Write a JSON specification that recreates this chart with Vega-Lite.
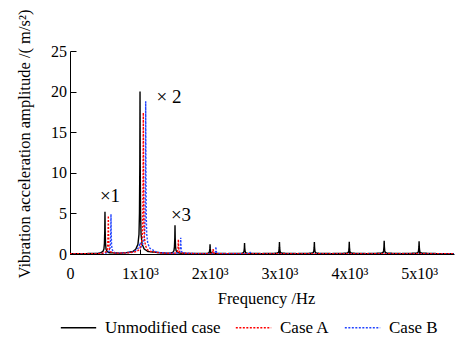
{
  "$schema": "https://vega.github.io/schema/vega-lite/v6.json",
  "autosize": "none",
  "width": 384,
  "height": 203,
  "padding": {"left": 70, "top": 51, "right": 1, "bottom": 87},
  "background": "white",
  "config": {
    "view": {"stroke": null},
    "font": "Liberation Serif",
    "axis": {"labelFont": "Liberation Serif", "titleFont": "Liberation Serif", "labelFontSize": 16, "titleFontSize": 16.5, "titleFontWeight": "normal", "labelColor": "black", "titleColor": "black", "domainColor": "black", "tickColor": "black", "grid": false},
    "legend": {"labelFont": "Liberation Serif", "labelFontSize": 17, "labelColor": "black"},
    "text": {"font": "Liberation Serif"}
  },
  "layer": [
    {
      "data": {"values": [
        {"s":"Unmodified case","f":0,"a":0.05},{"s":"Unmodified case","f":200,"a":0.05},{"s":"Unmodified case","f":400,"a":0.06},
        {"s":"Unmodified case","f":441,"a":0.16},{"s":"Unmodified case","f":471,"a":0.31},{"s":"Unmodified case","f":486,"a":0.62},{"s":"Unmodified case","f":493,"a":1.3},{"s":"Unmodified case","f":498,"a":2.86},{"s":"Unmodified case","f":501,"a":5.2},{"s":"Unmodified case","f":504,"a":2.86},{"s":"Unmodified case","f":509,"a":1.3},{"s":"Unmodified case","f":516,"a":0.62},{"s":"Unmodified case","f":531,"a":0.31},{"s":"Unmodified case","f":561,"a":0.16},
        {"s":"Unmodified case","f":700,"a":0.1},{"s":"Unmodified case","f":800,"a":0.15},{"s":"Unmodified case","f":900,"a":0.3},
        {"s":"Unmodified case","f":943,"a":0.6},{"s":"Unmodified case","f":973,"a":1.2},{"s":"Unmodified case","f":988,"a":2.4},{"s":"Unmodified case","f":995,"a":5},{"s":"Unmodified case","f":1000,"a":11},{"s":"Unmodified case","f":1003,"a":20},{"s":"Unmodified case","f":1006,"a":11},{"s":"Unmodified case","f":1011,"a":5},{"s":"Unmodified case","f":1018,"a":2.4},{"s":"Unmodified case","f":1033,"a":1.2},{"s":"Unmodified case","f":1063,"a":0.6},
        {"s":"Unmodified case","f":1120,"a":0.3},{"s":"Unmodified case","f":1300,"a":0.15},{"s":"Unmodified case","f":1400,"a":0.08},
        {"s":"Unmodified case","f":1444,"a":0.11},{"s":"Unmodified case","f":1474,"a":0.21},{"s":"Unmodified case","f":1489,"a":0.43},{"s":"Unmodified case","f":1496,"a":0.89},{"s":"Unmodified case","f":1501,"a":1.95},{"s":"Unmodified case","f":1504,"a":3.55},{"s":"Unmodified case","f":1507,"a":1.95},{"s":"Unmodified case","f":1512,"a":0.89},{"s":"Unmodified case","f":1519,"a":0.43},{"s":"Unmodified case","f":1534,"a":0.21},{"s":"Unmodified case","f":1564,"a":0.11},
        {"s":"Unmodified case","f":1700,"a":0.06},
        {"s":"Unmodified case","f":1966,"a":0.08},{"s":"Unmodified case","f":1991,"a":0.15},{"s":"Unmodified case","f":1998,"a":0.3},{"s":"Unmodified case","f":2003,"a":0.66},{"s":"Unmodified case","f":2006,"a":1.2},{"s":"Unmodified case","f":2009,"a":0.66},{"s":"Unmodified case","f":2014,"a":0.3},{"s":"Unmodified case","f":2021,"a":0.15},{"s":"Unmodified case","f":2046,"a":0.08},
        {"s":"Unmodified case","f":2250,"a":0.05},
        {"s":"Unmodified case","f":2460,"a":0.08},{"s":"Unmodified case","f":2485,"a":0.16},{"s":"Unmodified case","f":2492,"a":0.34},{"s":"Unmodified case","f":2497,"a":0.74},{"s":"Unmodified case","f":2500,"a":1.35},{"s":"Unmodified case","f":2503,"a":0.74},{"s":"Unmodified case","f":2508,"a":0.34},{"s":"Unmodified case","f":2515,"a":0.16},{"s":"Unmodified case","f":2540,"a":0.08},
        {"s":"Unmodified case","f":2750,"a":0.05},
        {"s":"Unmodified case","f":2960,"a":0.09},{"s":"Unmodified case","f":2985,"a":0.18},{"s":"Unmodified case","f":2992,"a":0.37},{"s":"Unmodified case","f":2997,"a":0.81},{"s":"Unmodified case","f":3000,"a":1.48},{"s":"Unmodified case","f":3003,"a":0.81},{"s":"Unmodified case","f":3008,"a":0.37},{"s":"Unmodified case","f":3015,"a":0.18},{"s":"Unmodified case","f":3040,"a":0.09},
        {"s":"Unmodified case","f":3250,"a":0.05},
        {"s":"Unmodified case","f":3460,"a":0.09},{"s":"Unmodified case","f":3485,"a":0.18},{"s":"Unmodified case","f":3492,"a":0.37},{"s":"Unmodified case","f":3497,"a":0.81},{"s":"Unmodified case","f":3500,"a":1.48},{"s":"Unmodified case","f":3503,"a":0.81},{"s":"Unmodified case","f":3508,"a":0.37},{"s":"Unmodified case","f":3515,"a":0.18},{"s":"Unmodified case","f":3540,"a":0.09},
        {"s":"Unmodified case","f":3750,"a":0.05},
        {"s":"Unmodified case","f":3960,"a":0.09},{"s":"Unmodified case","f":3985,"a":0.18},{"s":"Unmodified case","f":3992,"a":0.38},{"s":"Unmodified case","f":3997,"a":0.82},{"s":"Unmodified case","f":4000,"a":1.5},{"s":"Unmodified case","f":4003,"a":0.82},{"s":"Unmodified case","f":4008,"a":0.38},{"s":"Unmodified case","f":4015,"a":0.18},{"s":"Unmodified case","f":4040,"a":0.09},
        {"s":"Unmodified case","f":4250,"a":0.05},
        {"s":"Unmodified case","f":4460,"a":0.1},{"s":"Unmodified case","f":4485,"a":0.2},{"s":"Unmodified case","f":4492,"a":0.41},{"s":"Unmodified case","f":4497,"a":0.9},{"s":"Unmodified case","f":4500,"a":1.64},{"s":"Unmodified case","f":4503,"a":0.9},{"s":"Unmodified case","f":4508,"a":0.41},{"s":"Unmodified case","f":4515,"a":0.2},{"s":"Unmodified case","f":4540,"a":0.1},
        {"s":"Unmodified case","f":4750,"a":0.05},
        {"s":"Unmodified case","f":4960,"a":0.1},{"s":"Unmodified case","f":4985,"a":0.19},{"s":"Unmodified case","f":4992,"a":0.4},{"s":"Unmodified case","f":4997,"a":0.87},{"s":"Unmodified case","f":5000,"a":1.58},{"s":"Unmodified case","f":5003,"a":0.87},{"s":"Unmodified case","f":5008,"a":0.4},{"s":"Unmodified case","f":5015,"a":0.19},{"s":"Unmodified case","f":5040,"a":0.1},
        {"s":"Unmodified case","f":5250,"a":0.05},{"s":"Unmodified case","f":5500,"a":0.05},

        {"s":"Case B","f":0,"a":0.04},{"s":"Case B","f":300,"a":0.04},{"s":"Case B","f":480,"a":0.08},
        {"s":"Case B","f":527,"a":0.15},{"s":"Case B","f":557,"a":0.3},{"s":"Case B","f":572,"a":0.6},{"s":"Case B","f":579,"a":1.2},{"s":"Case B","f":584,"a":2.7},{"s":"Case B","f":587,"a":4.9},{"s":"Case B","f":590,"a":2.7},{"s":"Case B","f":595,"a":1.2},{"s":"Case B","f":602,"a":0.6},{"s":"Case B","f":617,"a":0.3},{"s":"Case B","f":647,"a":0.15},
        {"s":"Case B","f":750,"a":0.12},{"s":"Case B","f":900,"a":0.25},{"s":"Case B","f":940,"a":0.4},{"s":"Case B","f":985,"a":0.8},{"s":"Case B","f":1005,"a":1.4},{"s":"Case B","f":1015,"a":0.9},
        {"s":"Case B","f":1024,"a":0.9},{"s":"Case B","f":1054,"a":1.5},{"s":"Case B","f":1069,"a":2.4},{"s":"Case B","f":1076,"a":4.7},{"s":"Case B","f":1081,"a":10.3},{"s":"Case B","f":1084,"a":18.8},{"s":"Case B","f":1087,"a":10.3},{"s":"Case B","f":1092,"a":4.7},{"s":"Case B","f":1099,"a":2.4},{"s":"Case B","f":1114,"a":1.3},{"s":"Case B","f":1144,"a":0.7},
        {"s":"Case B","f":1250,"a":0.2},{"s":"Case B","f":1450,"a":0.08},
        {"s":"Case B","f":1546,"a":0.12},{"s":"Case B","f":1571,"a":0.24},{"s":"Case B","f":1578,"a":0.5},{"s":"Case B","f":1583,"a":1.1},{"s":"Case B","f":1586,"a":2.0},{"s":"Case B","f":1589,"a":1.1},{"s":"Case B","f":1594,"a":0.5},{"s":"Case B","f":1601,"a":0.24},{"s":"Case B","f":1626,"a":0.12},
        {"s":"Case B","f":1800,"a":0.05},
        {"s":"Case B","f":2050,"a":0.05},{"s":"Case B","f":2075,"a":0.11},{"s":"Case B","f":2082,"a":0.22},{"s":"Case B","f":2087,"a":0.5},{"s":"Case B","f":2090,"a":0.9},{"s":"Case B","f":2093,"a":0.5},{"s":"Case B","f":2098,"a":0.22},{"s":"Case B","f":2105,"a":0.11},{"s":"Case B","f":2130,"a":0.05},
        {"s":"Case B","f":2300,"a":0.04},{"s":"Case B","f":2560,"a":0.04},{"s":"Case B","f":2580,"a":0.2},{"s":"Case B","f":2600,"a":0.04},{"s":"Case B","f":5500,"a":0.04},

        {"s":"Case A","f":0,"a":0.03},{"s":"Case A","f":300,"a":0.03},{"s":"Case A","f":450,"a":0.06},
        {"s":"Case A","f":489,"a":0.14},{"s":"Case A","f":519,"a":0.28},{"s":"Case A","f":534,"a":0.56},{"s":"Case A","f":541,"a":1.18},{"s":"Case A","f":546,"a":2.6},{"s":"Case A","f":549,"a":4.7},{"s":"Case A","f":552,"a":2.6},{"s":"Case A","f":557,"a":1.18},{"s":"Case A","f":564,"a":0.56},{"s":"Case A","f":579,"a":0.28},{"s":"Case A","f":609,"a":0.14},
        {"s":"Case A","f":700,"a":0.1},{"s":"Case A","f":850,"a":0.15},{"s":"Case A","f":950,"a":0.3},
        {"s":"Case A","f":990,"a":0.52},{"s":"Case A","f":1020,"a":1.04},{"s":"Case A","f":1035,"a":2.1},{"s":"Case A","f":1042,"a":4.35},{"s":"Case A","f":1047,"a":9.6},{"s":"Case A","f":1050,"a":17.4},{"s":"Case A","f":1053,"a":9.6},{"s":"Case A","f":1058,"a":4.35},{"s":"Case A","f":1065,"a":2.1},{"s":"Case A","f":1080,"a":1.04},{"s":"Case A","f":1110,"a":0.52},
        {"s":"Case A","f":1160,"a":0.3},{"s":"Case A","f":1300,"a":0.12},{"s":"Case A","f":1450,"a":0.06},
        {"s":"Case A","f":1512,"a":0.11},{"s":"Case A","f":1537,"a":0.22},{"s":"Case A","f":1544,"a":0.45},{"s":"Case A","f":1549,"a":1.0},{"s":"Case A","f":1552,"a":1.8},{"s":"Case A","f":1555,"a":1.0},{"s":"Case A","f":1560,"a":0.45},{"s":"Case A","f":1567,"a":0.22},{"s":"Case A","f":1592,"a":0.11},
        {"s":"Case A","f":1800,"a":0.04},
        {"s":"Case A","f":2010,"a":0.04},{"s":"Case A","f":2035,"a":0.07},{"s":"Case A","f":2042,"a":0.15},{"s":"Case A","f":2047,"a":0.33},{"s":"Case A","f":2050,"a":0.6},{"s":"Case A","f":2053,"a":0.33},{"s":"Case A","f":2058,"a":0.15},{"s":"Case A","f":2065,"a":0.07},{"s":"Case A","f":2090,"a":0.04},
        {"s":"Case A","f":2300,"a":0.03},{"s":"Case A","f":5500,"a":0.03}
      ]},
      "mark": {"type": "line", "strokeWidth": 1.4, "clip": true},
      "encoding": {
        "x": {"field": "f", "type": "quantitative", "scale": {"domain": [0, 5500], "nice": false},
              "axis": {"title": "Frequency /Hz", "values": [0,1000,2000,3000,4000,5000], "labelExpr": "datum.value == 0 ? '0' : (datum.value/1000) + 'x10³'", "tickSize": -5, "labelPadding": 16, "titleX": 196, "titleY": 49, "titleBaseline": "alphabetic", "titleAnchor": "middle", "labelFlush": false, "labelOverlap": false}},
        "y": {"field": "a", "type": "quantitative", "scale": {"domain": [0, 25], "nice": false},
              "axis": {"title": "Vibration acceleration amplitude /( m/s²)", "values": [0,5,10,15,20,25], "tickSize": -6, "labelPadding": 9.5, "titleX": -41, "titleY": 92.5, "titleBaseline": "alphabetic", "titleAngle": -90, "titleAlign": "center"}},
        "color": {"field": "s", "type": "nominal", "sort": null,
                  "scale": {"domain": ["Unmodified case", "Case A", "Case B"], "range": ["#000000", "#ff0000", "#2244ff"]},
                  "legend": {"title": null, "orient": "none", "direction": "horizontal", "legendX": -10, "legendY": 258, "symbolType": "stroke", "symbolSize": 1250, "symbolStrokeWidth": 1.3, "labelOffset": 8, "columnPadding": 12}},
        "strokeDash": {"field": "s", "type": "nominal", "sort": null,
                  "scale": {"domain": ["Unmodified case", "Case A", "Case B"], "range": [[1,0],[2,1.5],[2,1.5]]},
                  "legend": {"title": null, "orient": "none", "direction": "horizontal", "legendX": -10, "legendY": 258, "symbolType": "stroke", "symbolSize": 1250, "symbolStrokeWidth": 1.3, "labelOffset": 8, "columnPadding": 12}}
      }
    },
    {
      "data": {"values": [
        {"label": "×1", "f": 573, "a": 7.1},
        {"label": "× 2", "f": 1418, "a": 19.3},
        {"label": "×3", "f": 1590, "a": 4.83}
      ]},
      "mark": {"type": "text", "fontSize": 19, "color": "black", "baseline": "middle", "align": "center", "font": "Liberation Serif"},
      "encoding": {
        "x": {"field": "f", "type": "quantitative"},
        "y": {"field": "a", "type": "quantitative"},
        "text": {"field": "label"}
      }
    }
  ]
}
